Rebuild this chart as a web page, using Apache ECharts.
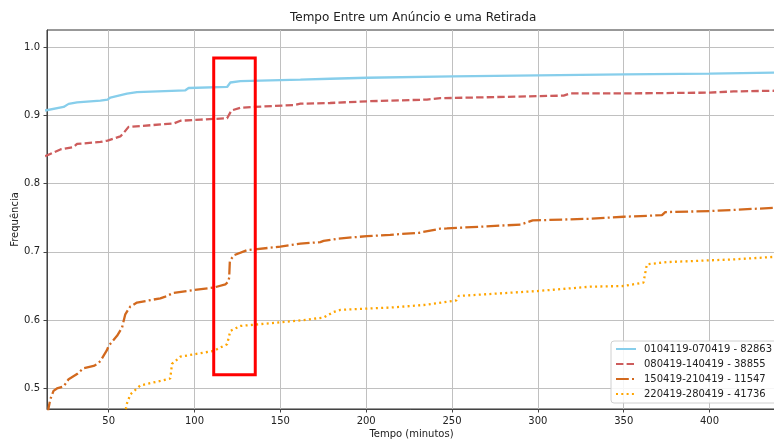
<!DOCTYPE html>
<html>
<head>
<meta charset="utf-8">
<script src="https://cdn.jsdelivr.net/npm/echarts@6/dist/echarts.min.js"></script>
<style>
  html, body { margin: 0; padding: 0; background: #fff; }
  #chart { width: 774px; height: 441px; }
</style>
</head>
<body>
<div id="chart"></div>
<script>
// Cumulative frequency of time between an announcement and a withdrawal, per weekly period
const seriesNames = [
  '0104119-070419 - 82863',
  '080419-140419 - 38855',
  '150419-210419 - 11547',
  '220419-280419 - 41736'
];

// [minutes, cumulative frequency]
const week1 = [
  [13, 0.907], [14.1, 0.9083], [23.8, 0.9123], [26.7, 0.9167], [31.6, 0.919], [45.2, 0.9215],
  [49.4, 0.923], [51, 0.926], [60.7, 0.9317], [66.5, 0.934], [94.7, 0.9366], [96.6, 0.940],
  [119, 0.9415], [120.9, 0.948], [126.7, 0.950], [161.7, 0.9522], [179, 0.9535], [200.5, 0.955],
  [250.3, 0.957], [300, 0.9585], [350, 0.960], [400, 0.961], [440, 0.9625]
];
const week2 = [
  [13, 0.840], [14.1, 0.8415], [21.9, 0.850], [29.6, 0.8535], [31.6, 0.858], [45.2, 0.861],
  [49.4, 0.863], [56.8, 0.869], [58.7, 0.874], [61.6, 0.883], [87.9, 0.888], [91.8, 0.892],
  [103.5, 0.8937], [119, 0.8956], [121.5, 0.907], [126.7, 0.911], [134.5, 0.9123], [157.7, 0.915],
  [161.7, 0.917], [179, 0.918], [200.5, 0.9205], [235.4, 0.923], [243.2, 0.925], [299.5, 0.928],
  [315, 0.9288], [319, 0.932], [350, 0.932], [400, 0.9332], [414, 0.935], [440, 0.936]
];
const week3 = [
  [14.5, 0.462], [15, 0.471], [16, 0.484], [17.9, 0.4965], [19.9, 0.500], [23.8, 0.503],
  [26.7, 0.5136], [31.6, 0.521], [35.4, 0.5297], [41.3, 0.533], [43.2, 0.5355], [45.2, 0.540],
  [49, 0.556], [50, 0.5623], [54.9, 0.577], [57.8, 0.589], [59.7, 0.6086], [62.6, 0.620],
  [66.5, 0.6257], [80.1, 0.632], [83, 0.6345], [87.9, 0.640], [99.5, 0.644], [111.2, 0.6477],
  [118, 0.6525], [119.6, 0.656], [120.2, 0.662], [120.6, 0.6866], [122.9, 0.695], [130.6, 0.7026],
  [150, 0.7076], [161.7, 0.712], [173.3, 0.7143], [175.2, 0.716], [184, 0.7195], [200.5, 0.723],
  [214, 0.725], [231, 0.728], [243.2, 0.734], [247, 0.7343], [290, 0.740], [297, 0.746],
  [330.5, 0.7485], [350, 0.7514], [372.3, 0.7538], [374.2, 0.7582], [400, 0.7597], [440, 0.7648]
];
const week4 = [
  [59.5, 0.462], [60.5, 0.477], [62.7, 0.4915], [68.5, 0.5045], [80.1, 0.511], [85.9, 0.5146],
  [86.9, 0.536], [91.8, 0.5465], [111.2, 0.555], [119, 0.5648], [120.9, 0.5842], [126.7, 0.5915],
  [161.7, 0.5996], [175.2, 0.6038], [181, 0.612], [185, 0.615], [200.5, 0.617], [214, 0.6184],
  [235, 0.6225], [252.5, 0.629], [253.9, 0.6354], [300, 0.6427], [330.5, 0.649], [350, 0.650],
  [361.5, 0.655], [363.5, 0.6817], [375, 0.685], [400, 0.6876], [414, 0.689], [440, 0.693]
];

// Highlighted interval around the two-hour jump
const boxX = [111.2, 135.4];
const boxY = [0.52, 0.984];

const xTicks = [50, 100, 150, 200, 250, 300, 350, 400];
const yTicks = [0.5, 0.6, 0.7, 0.8, 0.9, 1.0];

const xRange = [14.1, 438.7];
const yRange = [0.4699, 1.0249];

const colors = ['#87CEEB', '#CD5C5C', '#D2691E', '#FFA500'];
const dashes = ['solid', [7.4, 3.2], [12.8, 3.2, 2, 3.2], [2, 3.3]];
const weeks = [week1, week2, week3, week4];

const boxPath = [
  [boxX[0], boxY[0]], [boxX[0], boxY[1]], [boxX[1], boxY[1]],
  [boxX[1], boxY[0]], [boxX[0], boxY[0]]
];

const font = 'DejaVu Sans';
const chart = echarts.init(document.getElementById('chart'));

const lineSeries = weeks.map((data, i) => ({
  name: seriesNames[i],
  type: 'line',
  data: data,
  symbol: 'none',
  smooth: false,
  clip: true,
  z: 3 + i,
  lineStyle: { color: colors[i], width: 2.3, type: dashes[i], cap: 'butt' },
  itemStyle: { color: colors[i] }
}));

lineSeries.push({
  name: 'box',
  type: 'line',
  data: boxPath,
  symbol: 'none',
  z: 10,
  silent: true,
  lineStyle: { color: '#ff0000', width: 3, cap: 'square', join: 'miter' }
});

chart.setOption({
  animation: false,
  backgroundColor: '#ffffff',
  title: {
    text: 'Tempo Entre um Anúncio e uma Retirada',
    left: 290,
    top: 12,
    padding: 0,
    textStyle: { fontFamily: font, fontSize: 12, fontWeight: 'normal', color: '#222' }
  },
  grid: {
    left: 47, right: -2, top: 30, bottom: 32,
    containLabel: false,
    outerBoundsMode: 'none',
    show: true, borderColor: '#333', borderWidth: 1, backgroundColor: 'transparent'
  },
  legend: {
    data: seriesNames,
    orient: 'vertical',
    left: 611,
    top: 341,
    padding: [3, 6, 4, 4],
    itemWidth: 20,
    itemHeight: 10,
    itemGap: 5,
    itemStyle: { opacity: 0 },
    backgroundColor: 'rgba(255,255,255,0.85)',
    borderColor: '#d0d0d0',
    borderWidth: 1,
    borderRadius: 3,
    textStyle: { fontFamily: font, fontSize: 10, color: '#222', padding: [0, 0, 0, 3] }
  },
  xAxis: {
    type: 'value',
    min: xRange[0],
    max: xRange[1],
    name: 'Tempo (minutos)',
    nameLocation: 'middle',
    nameGap: 20,
    nameMoveOverlap: false,
    nameTextStyle: { fontFamily: font, fontSize: 10, color: '#222' },
    axisLine: { show: true, onZero: false, lineStyle: { color: '#444', width: 1 } },
    axisTick: { show: true, length: 3.5, customValues: xTicks, lineStyle: { color: '#444' } },
    axisLabel: {
      customValues: xTicks, margin: 7,
      fontFamily: font, fontSize: 10, color: '#222',
      formatter: v => String(Math.round(v))
    },
    splitLine: { show: true, lineStyle: { color: '#c0c0c0', width: 1 } }
  },
  yAxis: {
    type: 'value',
    min: yRange[0],
    max: yRange[1],
    name: 'Frequência',
    nameLocation: 'middle',
    nameGap: 27,
    nameMoveOverlap: false,
    nameTextStyle: { fontFamily: font, fontSize: 10, color: '#222' },
    axisLine: { show: true, onZero: false, lineStyle: { color: '#444', width: 1 } },
    axisTick: { show: true, length: 3.5, customValues: yTicks, lineStyle: { color: '#444' } },
    axisLabel: {
      customValues: yTicks, margin: 7,
      fontFamily: font, fontSize: 10, color: '#222',
      formatter: v => v.toFixed(1)
    },
    splitLine: { show: true, lineStyle: { color: '#c0c0c0', width: 1 } }
  },
  series: lineSeries
});
</script>
</body>
</html>
